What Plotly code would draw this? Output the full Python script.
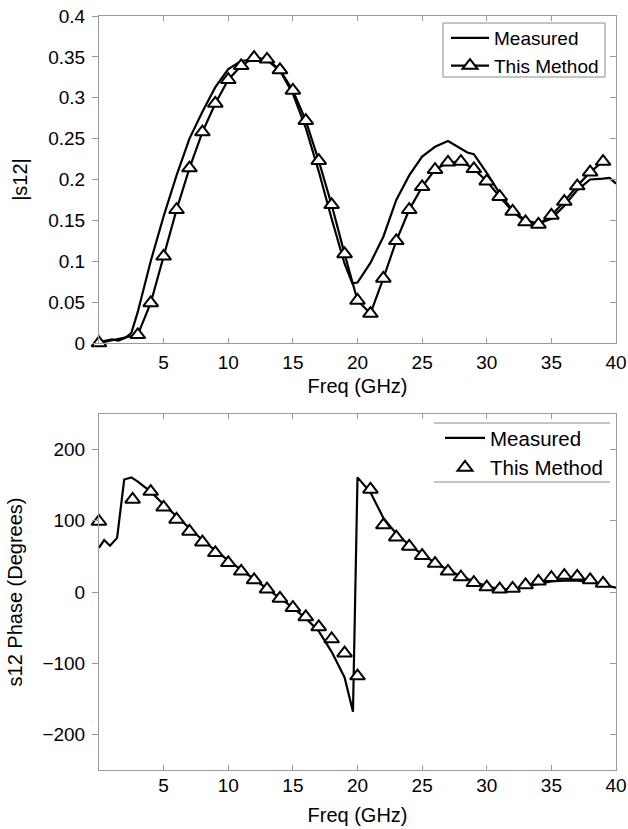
import plotly.graph_objects as go

# ---------------- data ----------------
# Top: |s12| magnitude
mag_meas_f = [0, 0.5, 1, 1.5, 2, 2.5, 3, 4, 5, 6, 7, 8, 9, 10, 11, 12, 13, 14, 15, 16, 17, 18, 19,
              19.6, 20, 21, 22, 23, 24, 25, 26, 27, 28, 28.5, 29, 30, 31, 32, 33, 34, 35, 36, 37,
              38, 39, 39.5, 40]
mag_meas = [0.001, 0.003, 0.0045, 0.003, 0.006, 0.012, 0.038, 0.1, 0.155, 0.205, 0.25, 0.283,
            0.313, 0.335, 0.345, 0.347, 0.346, 0.333, 0.305, 0.263, 0.21, 0.152, 0.097,
            0.073, 0.074, 0.098, 0.13, 0.175, 0.205, 0.228, 0.24, 0.247, 0.237, 0.233, 0.231,
            0.208, 0.183, 0.162, 0.15, 0.146, 0.152, 0.168, 0.187, 0.2, 0.201, 0.202, 0.195]

mag_calc_f = [0, 3, 4, 5, 6, 7, 8, 9, 10, 11, 12, 13, 14, 15, 16, 17, 18, 19, 20, 21, 22, 23, 24,
              25, 26, 27, 28, 29, 30, 31, 32, 33, 34, 35, 36, 37, 38, 39]
mag_calc = [0.0, 0.01, 0.049, 0.106, 0.163, 0.214, 0.258, 0.293, 0.322, 0.339, 0.349, 0.347,
            0.334, 0.309, 0.272, 0.223, 0.169, 0.109, 0.052, 0.036, 0.079, 0.125, 0.163,
            0.191, 0.212, 0.221, 0.222, 0.213, 0.198, 0.179, 0.161, 0.148, 0.145, 0.156,
            0.173, 0.192, 0.209, 0.222]

# Bottom: s12 phase (degrees)
ph_meas_f = [0, 0.4, 0.85, 1.4, 1.95, 2.5, 3, 4, 5, 6, 7, 8, 9, 10, 11, 12, 13, 14, 15, 16, 17,
             18, 19, 19.65, 20, 21, 22, 23, 24, 25, 26, 27, 28, 29, 30, 31, 32, 33, 34, 35, 36,
             37, 38, 39, 40]
ph_meas = [62, 73, 65, 76, 158, 161, 155, 141, 123, 106, 89, 73, 58, 44, 31, 18, 5, -8, -22,
           -37, -55, -84, -120, -168, 161, 140, 104, 82, 66, 53, 41, 31, 22, 15, 8, 4, 4, 8,
           12, 15, 16, 16, 14, 10, 6]

ph_calc_f = [0, 2.6, 4, 5, 6, 7, 8, 9, 10, 11, 12, 13, 14, 15, 16, 17, 18, 19, 20, 21, 22, 23,
             24, 25, 26, 27, 28, 29, 30, 31, 32, 33, 34, 35, 36, 37, 38, 39]
ph_calc = [99, 130, 141, 119, 102, 85, 70, 55, 41, 29, 17, 4, -9, -22, -35, -49, -66, -86,
           -118, 144, 94, 77, 64, 51, 40, 29, 21, 13, 7, 4, 5, 10, 15, 20, 23, 22, 17, 12]

x_ticks = [5, 10, 15, 20, 25, 30, 35, 40]
mag_ticks = [0, 0.05, 0.1, 0.15, 0.2, 0.25, 0.3, 0.35, 0.4]
ph_ticks = [-200, -100, 0, 100, 200]

# ---------------- style / layout ----------------
FONT = "Liberation Sans, Arial, Helvetica, sans-serif"
AX = "#9a9a9a"
W, H = 628, 829


def px(p):                   # page x pixel -> paper fraction
    return p / W


def py(p):                   # page y pixel -> paper fraction
    return 1 - p / H


xdom = [px(99), px(616)]
top_dom = [py(343), py(16)]
bot_dom = [py(770), py(414)]

tri = dict(symbol="triangle-up", size=13, color="white", line=dict(color="black", width=2))
LINE = dict(color="black", width=2.2)

fig = go.Figure()
fig.add_trace(go.Scatter(x=mag_meas_f, y=mag_meas, mode="lines", name="Measured", line=LINE,
                         xaxis="x", yaxis="y", legend="legend", cliponaxis=False))
fig.add_trace(go.Scatter(x=mag_calc_f, y=mag_calc, mode="lines+markers", name="This Method",
                         line=LINE, marker=tri, xaxis="x", yaxis="y", legend="legend",
                         cliponaxis=False))
fig.add_trace(go.Scatter(x=ph_meas_f, y=ph_meas, mode="lines", name="Measured", line=LINE,
                         xaxis="x2", yaxis="y2", legend="legend2", cliponaxis=False))
fig.add_trace(go.Scatter(x=ph_calc_f, y=ph_calc, mode="markers", name="This Method",
                         marker=tri, xaxis="x2", yaxis="y2", legend="legend2",
                         cliponaxis=False))
# empty traces to register the right-side (inside) tick axes
fig.add_trace(go.Scatter(x=[], y=[], xaxis="x", yaxis="y3", showlegend=False))
fig.add_trace(go.Scatter(x=[], y=[], xaxis="x2", yaxis="y4", showlegend=False))

xcommon = dict(range=[0, 40], tickvals=x_ticks, ticks="inside", ticklen=5, tickcolor=AX,
               showline=True, linecolor=AX, linewidth=1, mirror="ticks", showgrid=False,
               zeroline=False, domain=xdom, tickfont=dict(size=19), automargin=False,
               ticklabeloverflow="allow")
ycommon = dict(ticks="outside", ticklen=6, tickcolor=AX, showline=True, linecolor=AX,
               linewidth=1, mirror=True, showgrid=False, zeroline=False,
               tickfont=dict(size=19), ticklabelstandoff=3, automargin=False,
               ticklabeloverflow="allow")
yright = dict(ticks="inside", ticklen=6, tickcolor=AX, showline=False, showgrid=False,
              zeroline=False, showticklabels=False, side="right", automargin=False)

fig.update_layout(
    width=W, height=H, margin=dict(l=0, r=0, t=0, b=0),
    paper_bgcolor="white", plot_bgcolor="white",
    font=dict(family=FONT, color="black", size=19),
    xaxis=dict(anchor="y", ticklabelstandoff=2,
               title=dict(text="Freq (GHz)", font=dict(size=20), standoff=7), **xcommon),
    xaxis2=dict(anchor="y2", ticklabelstandoff=-2,
                title=dict(text="Freq (GHz)", font=dict(size=20), standoff=13), **xcommon),
    yaxis=dict(anchor="x", domain=top_dom, range=[0, 0.4], tickvals=mag_ticks,
               title=dict(text="|s12|", font=dict(size=20), standoff=15), **ycommon),
    yaxis2=dict(anchor="x2", domain=bot_dom, range=[-250, 250], tickvals=ph_ticks,
                title=dict(text="s12 Phase (Degrees)", font=dict(size=20), standoff=14),
                **ycommon),
    yaxis3=dict(overlaying="y", anchor="x", range=[0, 0.4], tickvals=mag_ticks, **yright),
    yaxis4=dict(overlaying="y2", anchor="x2", range=[-250, 250], tickvals=ph_ticks, **yright),
    legend=dict(x=px(446), y=py(19), xanchor="left", yanchor="top",
                bgcolor="rgba(0,0,0,0)", borderwidth=0,
                font=dict(size=19), tracegroupgap=0, itemwidth=38),
    legend2=dict(x=px(440), y=py(418), xanchor="left", yanchor="top",
                 bgcolor="rgba(0,0,0,0)", borderwidth=0, font=dict(size=20.5),
                 itemwidth=40),
    shapes=[
        dict(type="rect", xref="paper", yref="paper", x0=px(443), x1=px(605),
             y0=py(77), y1=py(23), fillcolor="white", layer="above",
             line=dict(color="#8a8a8a", width=1)),
        dict(type="line", xref="paper", yref="paper", x0=px(434), x1=px(610),
             y0=py(423), y1=py(423), line=dict(color="#8a8a8a", width=1)),
        dict(type="line", xref="paper", yref="paper", x0=px(434), x1=px(610),
             y0=py(482), y1=py(482), line=dict(color="#8a8a8a", width=1)),
    ],
    showlegend=True,
)

# remove the browser's default 8px body margin so the figure fills the window exactly
fig.write_html("out.html", config={"displayModeBar": False},
               post_script="document.body.style.margin='0';")
